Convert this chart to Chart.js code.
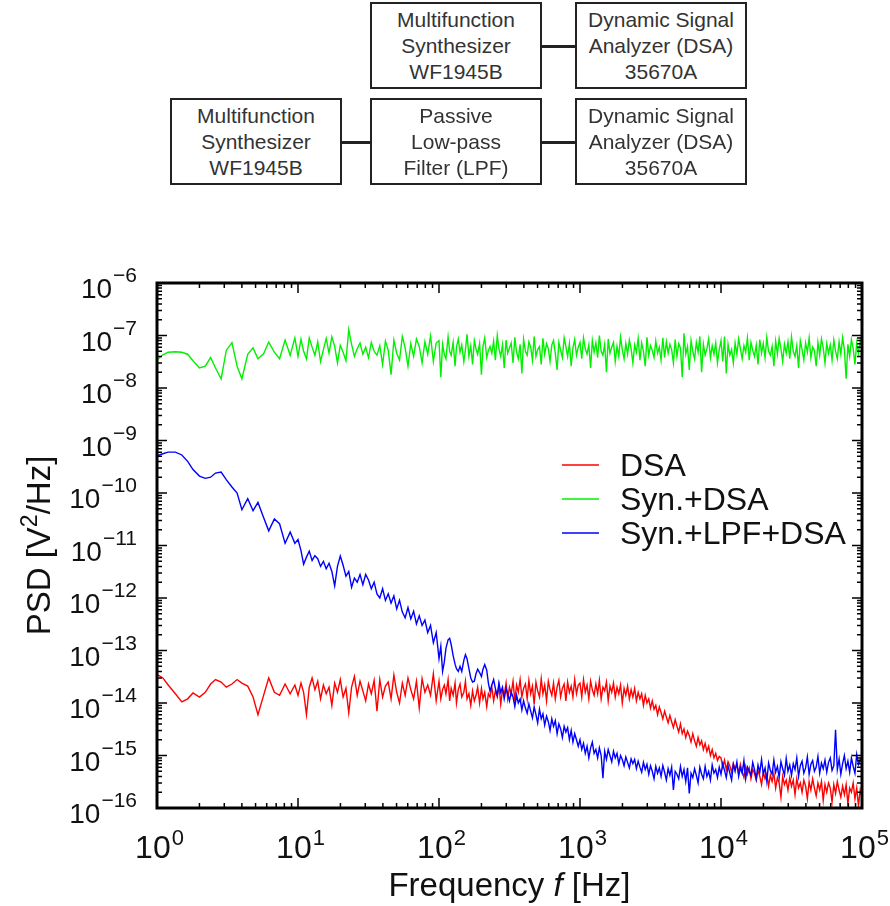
<!DOCTYPE html>
<html>
<head>
<meta charset="utf-8">
<script src="https://cdn.jsdelivr.net/npm/chart.js@4/dist/chart.umd.min.js"></script>
<style>
html, body { margin: 0; padding: 0; background: #fff; }
#wrap { position: relative; width: 890px; height: 906px; overflow: hidden; }
#grafica { position: absolute; left: 0; top: 0; }
.box {
    position: absolute; box-sizing: border-box; width: 172px; height: 87px;
    border: 2.5px solid #222; background: #fff; color: #333;
    font-family: "Liberation Sans", Arial, sans-serif; font-size: 21px; line-height: 26px;
    text-align: center; padding-top: 3px;
}
.wire { position: absolute; height: 2.5px; background: #222; }
</style>
</head>
<body>
<div id="wrap">
<canvas id="grafica" width="890" height="906"></canvas>

<div class="box" style="left:370px; top:2px;">Multifunction<br>Synthesizer<br>WF1945B</div>
<div class="wire" style="left:541px; top:45px; width:35px;"></div>
<div class="box" style="left:575px; top:2px;">Dynamic Signal<br>Analyzer (DSA)<br>35670A</div>

<div class="box" style="left:170px; top:98px;">Multifunction<br>Synthesizer<br>WF1945B</div>
<div class="wire" style="left:341px; top:141px; width:30px;"></div>
<div class="box" style="left:370px; top:98px;">Passive<br>Low-pass<br>Filter (LPF)</div>
<div class="wire" style="left:541px; top:141px; width:35px;"></div>
<div class="box" style="left:575px; top:98px;">Dynamic Signal<br>Analyzer (DSA)<br>35670A</div>
</div>

<script>
// frequency points [Hz]
var freq = [
    1, 1.1, 1.2, 1.35, 1.5, 1.65, 1.8, 2, 2.2, 2.4, 2.6, 2.85, 3.1, 3.4, 3.7, 4, 4.4, 4.8, 5.2, 5.7, 6.2, 6.8, 7.4, 8.1, 8.8, 9.5,
    10, 10.5, 10.96, 11.48, 12.02, 12.59, 13.18, 13.8, 14.45, 15.14,
    15.85, 16.6, 17.38, 18.2, 19.05, 19.95, 20.89, 21.88, 22.91, 23.99,
    25.12, 26.3, 27.54, 28.84, 30.2, 31.62, 33.11, 34.67, 36.31, 38.02,
    39.81, 41.69, 43.65, 45.71, 47.86, 50.12, 52.48, 54.95, 57.54, 60.26,
    63.1, 66.07, 69.18, 72.44, 75.86, 79.43, 83.18, 87.1, 91.2, 95.5,
    100, 103, 106, 109, 112, 116, 119, 122, 126, 130,
    133, 137, 141, 145, 150, 154, 158, 163, 168, 173,
    178, 183, 188, 194, 200, 205, 211, 218, 224, 230,
    237, 244, 251, 259, 266, 274, 282, 290, 299, 307,
    316, 325, 335, 345, 355, 365, 376, 387, 398, 410,
    422, 434, 447, 460, 473, 487, 501, 516, 531, 546,
    562, 579, 596, 613, 631, 649, 668, 688, 708, 729,
    750, 772, 794, 817, 841, 866, 891, 917, 944, 972,
    1000, 1029, 1059, 1090, 1122, 1155, 1189, 1223, 1259, 1296,
    1334, 1372, 1413, 1454, 1496, 1540, 1585, 1631, 1679, 1728,
    1778, 1830, 1884, 1939, 1995, 2054, 2113, 2175, 2239, 2304,
    2371, 2441, 2512, 2585, 2661, 2738, 2818, 2901, 2985, 3073,
    3162, 3255, 3350, 3447, 3548, 3652, 3758, 3868, 3981, 4097,
    4217, 4340, 4467, 4597, 4732, 4870, 5012, 5158, 5309, 5464,
    5623, 5788, 5957, 6131, 6310, 6494, 6683, 6879, 7079, 7286,
    7499, 7718, 7943, 8175, 8414, 8660, 8913, 9173, 9441, 9716,
    10000, 10290, 10590, 10900, 11220, 11550, 11890, 12230, 12590, 12960,
    13340, 13720, 14130, 14540, 14960, 15400, 15850, 16310, 16790, 17280,
    17780, 18300, 18840, 19390, 19950, 20540, 21130, 21750, 22390, 23040,
    23710, 24410, 25120, 25850, 26610, 27380, 28180, 29010, 29850, 30730,
    31620, 32550, 33500, 34470, 35480, 36520, 37580, 38680, 39810, 40970,
    42170, 43400, 44670, 45970, 47320, 48700, 50120, 51580, 53090, 54640,
    56230, 57880, 59570, 61310, 63100, 64940, 66830, 68790, 70790, 72860,
    74990, 77180, 79430, 81750, 84140, 86600, 89130, 91730, 94410, 97160,
    100000
];

// DSA alone
var psdDSA = [
    3.5e-14, 3.0e-14, 2.2e-14, 1.5e-14, 1.05e-14, 1.2e-14, 1.55e-14, 1.3e-14, 1.6e-14, 2.3e-14, 2.8e-14, 2.5e-14, 2.0e-14, 2.3e-14, 2.8e-14, 2.4e-14, 2.1e-14, 1.3e-14, 6.0e-15, 1.4e-14, 3.0e-14, 1.6e-14, 1.4e-14, 2.3e-14, 1.5e-14, 2.2e-14,
    1.4e-14, 2.4e-14, 1.6e-14, 6.0e-15, 2.0e-14, 3.0e-14, 1.8e-14, 2.6e-14, 1.2e-14, 2.2e-14,
    1.5e-14, 2.0e-14, 9.0e-15, 2.4e-14, 1.6e-14, 2.8e-14, 1.3e-14, 1.9e-14, 6.5e-15, 2.0e-14,
    3.2e-14, 1.4e-14, 2.6e-14, 1.7e-14, 1.1e-14, 2.3e-14, 1.5e-14, 2.7e-14, 7.0e-15, 2.8e-14,
    1.3e-14, 2.1e-14, 2.5e-14, 1.2e-14, 3.4e-14, 1.6e-14, 1.0e-14, 2.4e-14, 1.4e-14, 3.0e-14,
    1.8e-14, 1.2e-14, 2.6e-14, 8.0e-15, 2.9e-14, 1.6e-14, 2.2e-14, 1.4e-14, 3.6e-14, 1.1e-14,
    2.6e-14, 1.2e-14, 1.8e-14, 2.2e-14, 1.5e-14, 2.8e-14, 1.1e-14, 1.9e-14, 1.4e-14, 2.4e-14,
    1.0e-14, 1.8e-14, 2.3e-14, 1.3e-14, 1.6e-14, 2.6e-14, 1.2e-14, 1.5e-14, 9.0e-15, 1.7e-14,
    1.1e-14, 1.4e-14, 2.0e-14, 1.0e-14, 1.9e-14, 1.2e-14, 1.6e-14, 8.5e-15, 1.5e-14, 1.3e-14,
    2.0e-14, 1.1e-14, 1.7e-14, 1.3e-14, 2.2e-14, 9.5e-15, 1.8e-14, 1.4e-14, 2.4e-14, 1.2e-14,
    2.0e-14, 1.5e-14, 2.6e-14, 1.1e-14, 2.2e-14, 1.6e-14, 2.8e-14, 1.3e-14, 1.9e-14, 2.3e-14,
    1.2e-14, 2.7e-14, 1.5e-14, 2.1e-14, 9.5e-15, 2.5e-14, 1.7e-14, 1.3e-14, 2.9e-14, 1.5e-14,
    2.2e-14, 1.1e-14, 2.6e-14, 1.8e-14, 1.4e-14, 2.4e-14, 1.2e-14, 2.0e-14, 2.7e-14, 1.3e-14,
    1.9e-14, 2.3e-14, 1.1e-14, 2.5e-14, 1.6e-14, 2.1e-14, 1.3e-14, 2.8e-14, 1.5e-14, 2.2e-14,
    2.4e-14, 1.3e-14, 2.8e-14, 1.6e-14, 2.2e-14, 1.2e-14, 2.6e-14, 1.8e-14, 1.4e-14, 2.3e-14,
    1.5e-14, 2.7e-14, 1.2e-14, 2.0e-14, 1.7e-14, 2.5e-14, 1.1e-14, 2.1e-14, 1.6e-14, 2.4e-14,
    1.3e-14, 2.0e-14, 1.5e-14, 2.2e-14, 1.0e-14, 1.9e-14, 1.4e-14, 2.1e-14, 1.2e-14, 1.8e-14,
    1.3e-14, 1.9e-14, 1.1e-14, 1.6e-14, 1.2e-14, 1.5e-14, 9.0e-15, 1.4e-14, 1.0e-14, 1.2e-14,
    8.0e-15, 1.1e-14, 7.6e-15, 9.0e-15, 6.0e-15, 8.4e-15, 6.6e-15, 5.0e-15, 7.0e-15, 5.4e-15,
    4.2e-15, 5.8e-15, 4.4e-15, 3.4e-15, 4.8e-15, 3.6e-15, 2.8e-15, 4.0e-15, 2.6e-15, 3.2e-15,
    2.2e-15, 2.9e-15, 2.4e-15, 1.8e-15, 2.6e-15, 1.9e-15, 1.5e-15, 2.2e-15, 1.6e-15, 1.9e-15,
    1.3e-15, 1.7e-15, 1.2e-15, 1.5e-15, 1.0e-15, 1.3e-15, 9.0e-16, 1.1e-15, 8.0e-16, 9.6e-16,
    9.0e-16, 6.0e-16, 8.2e-16, 5.4e-16, 7.6e-16, 6.4e-16, 4.8e-16, 7.0e-16, 5.6e-16, 6.6e-16,
    4.6e-16, 6.8e-16, 5.0e-16, 3.8e-16, 6.2e-16, 4.4e-16, 5.8e-16, 3.6e-16, 5.4e-16, 4.6e-16,
    3.4e-16, 5.2e-16, 4.0e-16, 2.8e-16, 4.8e-16, 3.6e-16, 4.4e-16, 2.6e-16, 4.2e-16, 3.2e-16,
    4.6e-16, 2.4e-16, 3.8e-16, 3.0e-16, 1.6e-16, 4.0e-16, 2.8e-16, 3.4e-16, 2.2e-16, 3.8e-16,
    2.6e-16, 3.4e-16, 1.8e-16, 3.6e-16, 2.4e-16, 3.0e-16, 2.0e-16, 3.4e-16, 2.6e-16, 1.5e-16,
    3.2e-16, 2.2e-16, 3.6e-16, 2.4e-16, 1.7e-16, 3.0e-16, 2.2e-16, 3.2e-16, 1.4e-16, 2.8e-16,
    2.0e-16, 3.0e-16, 2.4e-16, 1.3e-16, 2.8e-16, 1.9e-16, 3.2e-16, 2.2e-16, 1.6e-16, 2.6e-16,
    1.8e-16, 2.8e-16, 1.2e-16, 2.4e-16, 2.0e-16, 3.0e-16, 1.5e-16, 2.4e-16, 1.1e-16, 2.2e-16,
    1.6e-16
];

// synthesizer -> DSA
var psdSynDSA = [
    3.4e-8, 4.3e-8, 4.8e-8, 4.9e-8, 4.8e-8, 4.4e-8, 3.3e-8, 2.4e-8, 2.6e-8, 3.8e-8, 2.4e-8, 1.5e-8, 5.2e-8, 7.3e-8, 2.6e-8, 1.5e-8, 4.4e-8, 5.8e-8, 3.6e-8, 4.5e-8, 7.5e-8, 4.8e-8, 3.6e-8, 8.2e-8, 4.2e-8, 9.0e-8,
    4.0e-8, 8.5e-8, 5.0e-8, 3.6e-8, 9.0e-8, 6.0e-8, 4.2e-8, 7.6e-8, 3.2e-8, 5.4e-8,
    8.8e-8, 4.6e-8, 9.4e-8, 6.2e-8, 3.0e-8, 6.5e-8, 4.8e-8, 3.3e-8, 1.3e-7, 6.8e-8,
    4.0e-8, 5.6e-8, 7.2e-8, 4.4e-8, 6.0e-8, 3.8e-8, 7.4e-8, 5.0e-8, 4.2e-8, 6.4e-8,
    2.8e-8, 7.8e-8, 5.2e-8, 1.8e-8, 8.2e-8, 4.6e-8, 3.4e-8, 9.6e-8, 5.8e-8, 2.6e-8,
    7.0e-8, 4.0e-8, 8.6e-8, 6.2e-8, 3.0e-8, 7.6e-8, 4.4e-8, 9.8e-8, 3.2e-8, 7.2e-8,
    8.0e-8, 1.6e-8, 6.8e-8, 4.4e-8, 3.6e-8, 9.4e-8, 5.0e-8, 4.2e-8, 7.4e-8, 2.6e-8,
    6.0e-8, 8.6e-8, 4.8e-8, 6.6e-8, 3.2e-8, 5.4e-8, 1.05e-7, 4.0e-8, 6.4e-8, 2.8e-8,
    8.0e-8, 5.6e-8, 4.4e-8, 7.0e-8, 1.8e-8, 6.2e-8, 9.0e-8, 3.8e-8, 5.2e-8, 6.2e-8,
    4.6e-8, 7.8e-8, 3.4e-8, 1.0e-7, 5.6e-8, 4.0e-8, 6.6e-8, 2.4e-8, 8.2e-8, 4.6e-8,
    5.8e-8, 7.2e-8, 3.0e-8, 9.2e-8, 4.8e-8, 3.6e-8, 6.8e-8, 1.9e-8, 8.4e-8, 5.0e-8,
    4.2e-8, 7.6e-8, 6.0e-8, 3.4e-8, 9.6e-8, 4.0e-8, 5.4e-8, 6.2e-8, 2.8e-8, 8.8e-8,
    4.4e-8, 7.0e-8, 5.6e-8, 3.2e-8, 6.6e-8, 8.0e-8, 4.6e-8, 2.2e-8, 7.4e-8, 5.2e-8,
    3.8e-8, 9.0e-8, 6.2e-8, 4.0e-8, 7.0e-8, 2.6e-8, 5.8e-8, 8.4e-8, 4.2e-8, 6.0e-8,
    7.4e-8, 3.6e-8, 9.0e-8, 5.6e-8, 4.4e-8, 6.6e-8, 2.4e-8, 8.0e-8, 4.8e-8, 7.2e-8,
    3.8e-8, 1.0e-7, 5.0e-8, 4.2e-8, 6.8e-8, 2.0e-8, 8.6e-8, 4.6e-8, 6.0e-8, 7.4e-8,
    3.2e-8, 6.2e-8, 4.0e-8, 9.4e-8, 5.4e-8, 3.6e-8, 7.0e-8, 4.4e-8, 8.2e-8, 5.6e-8,
    3.0e-8, 6.6e-8, 4.8e-8, 8.8e-8, 3.4e-8, 7.2e-8, 5.0e-8, 2.6e-8, 9.2e-8, 4.2e-8,
    6.4e-8, 5.2e-8, 3.8e-8, 7.8e-8, 4.6e-8, 6.0e-8, 3.4e-8, 9.0e-8, 3.8e-8, 7.6e-8,
    4.6e-8, 6.8e-8, 5.4e-8, 3.0e-8, 8.4e-8, 4.0e-8, 7.0e-8, 5.8e-8, 1.6e-8, 1.1e-7,
    4.4e-8, 6.2e-8, 2.2e-8, 8.0e-8, 5.0e-8, 3.6e-8, 7.4e-8, 4.8e-8, 9.6e-8, 2.0e-8,
    6.8e-8, 4.2e-8, 5.6e-8, 8.6e-8, 3.8e-8, 6.4e-8, 4.4e-8, 7.2e-8, 3.0e-8, 5.4e-8,
    8.0e-8, 3.2e-8, 9.6e-8, 1.9e-8, 6.8e-8, 4.2e-8, 5.4e-8, 3.0e-8, 7.2e-8, 4.4e-8,
    8.6e-8, 5.6e-8, 3.6e-8, 6.4e-8, 4.8e-8, 9.0e-8, 3.4e-8, 7.4e-8, 5.2e-8, 4.0e-8,
    6.6e-8, 2.8e-8, 8.4e-8, 4.6e-8, 7.0e-8, 3.8e-8, 9.2e-8, 5.0e-8, 4.2e-8, 6.2e-8,
    2.6e-8, 7.8e-8, 4.4e-8, 8.8e-8, 5.6e-8, 3.2e-8, 6.8e-8, 4.6e-8, 7.6e-8, 3.6e-8,
    9.4e-8, 5.0e-8, 4.0e-8, 6.4e-8, 2.4e-8, 8.0e-8, 5.4e-8, 3.4e-8, 7.2e-8, 4.8e-8,
    9.0e-8, 3.8e-8, 6.0e-8, 5.2e-8, 2.6e-8, 7.4e-8, 4.2e-8, 8.6e-8, 5.8e-8, 3.0e-8,
    7.0e-8, 4.6e-8, 6.6e-8, 3.4e-8, 8.2e-8, 5.0e-8, 3.6e-8, 7.6e-8, 4.4e-8, 9.2e-8,
    5.4e-8, 1.5e-8, 6.8e-8, 4.0e-8, 8.4e-8, 5.6e-8, 2.8e-8, 7.2e-8, 4.6e-8, 8.0e-8,
    6.0e-8
];

// synthesizer -> LPF -> DSA
var psdSynLPFDSA = [
    5.1e-10, 5.6e-10, 6.0e-10, 6.0e-10, 5.3e-10, 4.0e-10, 2.8e-10, 2.1e-10, 1.9e-10, 2.0e-10, 2.4e-10, 2.5e-10, 1.8e-10, 1.3e-10, 1.0e-10, 4.8e-11, 7.8e-11, 4.6e-11, 6.6e-11, 3.4e-11, 1.9e-11, 3.2e-11, 2.6e-11, 1.1e-11, 1.8e-11, 1.1e-11,
    1.3e-11, 8.0e-12, 4.4e-12, 6.0e-12, 7.8e-12, 5.2e-12, 6.4e-12, 5.6e-12, 4.0e-12, 5.0e-12,
    3.6e-12, 4.6e-12, 3.2e-12, 1.7e-12, 4.0e-12, 6.3e-12, 4.2e-12, 2.6e-12, 3.2e-12, 1.6e-12,
    2.4e-12, 2.0e-12, 2.8e-12, 1.8e-12, 2.8e-12, 2.2e-12, 1.5e-12, 2.0e-12, 1.2e-12, 1.0e-12,
    1.5e-12, 9.0e-13, 1.2e-12, 8.0e-13, 1.1e-12, 6.2e-13, 9.0e-13, 5.4e-13, 4.2e-13, 6.6e-13,
    4.0e-13, 5.6e-13, 3.2e-13, 4.6e-13, 3.0e-13, 3.8e-13, 2.2e-13, 3.0e-13, 1.4e-13, 2.2e-13,
    7.0e-14, 1.2e-13, 4.0e-14, 6.0e-14, 1.1e-13, 1.6e-13, 1.7e-13, 1.3e-13, 8.0e-14, 5.5e-14,
    4.5e-14, 4.0e-14, 5.0e-14, 4.0e-14, 6.5e-14, 8.3e-14, 7.0e-14, 4.5e-14, 3.0e-14, 2.5e-14,
    2.6e-14, 3.6e-14, 4.4e-14, 3.8e-14, 3.2e-14, 4.4e-14, 5.4e-14, 4.2e-14, 2.4e-14, 1.7e-14,
    2.2e-14, 2.8e-14, 1.9e-14, 1.4e-14, 2.4e-14, 1.6e-14, 2.0e-14, 1.2e-14, 1.9e-14, 1.5e-14,
    1.1e-14, 1.6e-14, 1.3e-14, 8.6e-15, 1.4e-14, 1.0e-14, 1.2e-14, 7.4e-15, 1.1e-14, 8.0e-15,
    6.4e-15, 9.6e-15, 7.0e-15, 5.2e-15, 8.4e-15, 6.0e-15, 4.2e-15, 7.6e-15, 5.0e-15, 6.2e-15,
    3.8e-15, 5.6e-15, 4.4e-15, 3.0e-15, 5.0e-15, 3.6e-15, 4.6e-15, 2.6e-15, 4.0e-15, 3.2e-15,
    2.2e-15, 3.6e-15, 2.8e-15, 3.4e-15, 2.0e-15, 3.0e-15, 1.8e-15, 2.6e-15, 2.0e-15, 1.5e-15,
    2.0e-15, 1.3e-15, 1.7e-15, 1.1e-15, 1.5e-15, 9.0e-16, 1.4e-15, 1.8e-15, 1.1e-15, 1.3e-15,
    9.0e-16, 1.4e-15, 1.0e-15, 3.7e-16, 1.2e-15, 8.4e-16, 1.3e-15, 1.0e-15, 7.6e-16, 1.2e-15,
    9.0e-16, 1.1e-15, 7.0e-16, 1.0e-15, 8.4e-16, 6.4e-16, 9.4e-16, 7.4e-16, 5.8e-16, 8.6e-16,
    7.0e-16, 8.4e-16, 5.6e-16, 7.8e-16, 6.0e-16, 4.8e-16, 7.4e-16, 5.4e-16, 6.8e-16, 4.4e-16,
    6.4e-16, 5.0e-16, 3.6e-16, 6.2e-16, 4.6e-16, 5.8e-16, 4.0e-16, 6.4e-16, 4.8e-16, 3.4e-16,
    5.6e-16, 4.2e-16, 6.0e-16, 2.2e-16, 5.0e-16, 4.4e-16, 3.6e-16, 6.2e-16, 4.0e-16, 5.4e-16,
    3.2e-16, 5.8e-16, 1.9e-16, 4.6e-16, 3.8e-16, 5.6e-16, 4.2e-16, 3.0e-16, 6.0e-16, 4.4e-16,
    3.6e-16, 6.2e-16, 4.0e-16, 5.0e-16, 3.4e-16, 6.6e-16, 4.6e-16, 5.4e-16, 3.8e-16, 6.0e-16,
    4.4e-16, 7.0e-16, 5.2e-16, 3.8e-16, 6.4e-16, 4.6e-16, 3.4e-16, 6.8e-16, 5.0e-16, 7.6e-16,
    4.0e-16, 5.8e-16, 4.6e-16, 8.0e-16, 3.6e-16, 6.0e-16, 5.0e-16, 4.2e-16, 7.4e-16, 5.4e-16,
    3.6e-16, 6.6e-16, 4.8e-16, 8.4e-16, 4.4e-16, 5.8e-16, 3.2e-16, 7.2e-16, 5.2e-16, 4.4e-16,
    8.2e-16, 4.8e-16, 6.2e-16, 3.8e-16, 7.6e-16, 5.6e-16, 4.2e-16, 8.8e-16, 5.0e-16, 6.6e-16,
    4.2e-16, 7.0e-16, 5.4e-16, 9.0e-16, 4.0e-16, 6.4e-16, 7.8e-16, 4.6e-16, 5.8e-16, 9.4e-16,
    4.4e-16, 6.8e-16, 8.0e-16, 5.0e-16, 6.0e-16, 9.6e-16, 4.6e-16, 7.2e-16, 5.6e-16, 8.2e-16,
    4.8e-16, 7.4e-16, 9.0e-16, 5.2e-16, 6.4e-16, 3.1e-15, 5.4e-16, 8.6e-16, 4.4e-16, 7.0e-16,
    1.0e-15, 5.6e-16, 7.8e-16, 4.8e-16, 9.0e-16, 6.2e-16, 4.6e-16, 1.05e-15, 6.8e-16, 8.4e-16,
    7.0e-16
];

var labels = ['DSA', 'Syn.+DSA', 'Syn.+LPF+DSA'];
var colores = ['#ff0000', '#00f000', '#0000ff'];

// tick labels: powers of ten
var xExponents = [0, 1, 2, 3, 4, 5];
var yExponents = [-6, -7, -8, -9, -10, -11, -12, -13, -14, -15, -16];

var FONT = '"Liberation Sans", Arial, sans-serif';

function puntos(serie) {
    return freq.map(function (f, i) { return { x: f, y: serie[i] }; });
}

function supText(e) {
    return String(e).replace('-', '\u2212');
}

var marco = {
    id: 'marco',
    afterDraw: function (chart) {
        var ctx = chart.ctx;
        var a = chart.chartArea;
        var xs = chart.scales.x, ys = chart.scales.y;
        ctx.save();

        // inward ticks on all four sides
        ctx.strokeStyle = '#000';
        ctx.lineWidth = 1.5;
        ctx.beginPath();
        xExponents.forEach(function (e) {
            for (var m = 1; m <= 9; m++) {
                var v = m * Math.pow(10, e);
                if (v > 1e5) break;
                var px = xs.getPixelForValue(v);
                var len = m === 1 ? 10 : 5;
                ctx.moveTo(px, a.bottom); ctx.lineTo(px, a.bottom - len);
                ctx.moveTo(px, a.top); ctx.lineTo(px, a.top + len);
            }
        });
        yExponents.forEach(function (e) {
            for (var m = 1; m <= 9; m++) {
                var v = m * Math.pow(10, e);
                if (v > 1e-6) break;
                var py = ys.getPixelForValue(v);
                var len = m === 1 ? 10 : 5;
                ctx.moveTo(a.left, py); ctx.lineTo(a.left + len, py);
                ctx.moveTo(a.right, py); ctx.lineTo(a.right - len, py);
            }
        });
        ctx.stroke();

        ctx.lineWidth = 3;
        ctx.strokeRect(a.left, a.top, a.right - a.left, a.bottom - a.top);

        // tick labels
        ctx.fillStyle = '#111';
        ctx.textBaseline = 'alphabetic';
        ctx.textAlign = 'left';
        xExponents.forEach(function (e) {
            var px = xs.getPixelForValue(Math.pow(10, e));
            ctx.font = '32px ' + FONT;
            var w1 = ctx.measureText('10').width;
            ctx.font = '22px ' + FONT;
            var w2 = ctx.measureText(supText(e)).width;
            var x0 = px + 2 - (w1 + w2) / 2;
            ctx.font = '32px ' + FONT;
            ctx.fillText('10', x0, a.bottom + 50);
            ctx.font = '22px ' + FONT;
            ctx.fillText(supText(e), x0 + w1 + 1, a.bottom + 37);
        });
        yExponents.forEach(function (e) {
            var py = ys.getPixelForValue(Math.pow(10, e));
            ctx.font = '28px ' + FONT;
            var w1 = ctx.measureText('10').width;
            ctx.font = '21px ' + FONT;
            var w2 = ctx.measureText(supText(e)).width;
            var right = a.left - 20;
            ctx.font = '28px ' + FONT;
            ctx.fillText('10', right - w2 - w1 - 1, py + 15);
            ctx.font = '21px ' + FONT;
            ctx.fillText(supText(e), right - w2, py - 1);
        });

        // axis titles
        ctx.font = '33px ' + FONT;
        var p1 = 'Frequency ', p2 = 'f', p3 = ' [Hz]';
        var w1 = ctx.measureText(p1).width, w3 = ctx.measureText(p3).width;
        ctx.font = 'italic 33px ' + FONT;
        var w2 = ctx.measureText(p2).width;
        var cx = (a.left + a.right) / 2;
        var x0 = cx - (w1 + w2 + w3) / 2;
        ctx.font = '33px ' + FONT;
        ctx.fillText(p1, x0, a.bottom + 88);
        ctx.font = 'italic 33px ' + FONT;
        ctx.fillText(p2, x0 + w1, a.bottom + 88);
        ctx.font = '33px ' + FONT;
        ctx.fillText(p3, x0 + w1 + w2, a.bottom + 88);

        ctx.save();
        ctx.translate(50, (a.top + a.bottom) / 2);
        ctx.rotate(-Math.PI / 2);
        ctx.font = '33px ' + FONT;
        var q1 = 'PSD [V', q3 = '/Hz]';
        var v1 = ctx.measureText(q1).width, v3 = ctx.measureText(q3).width;
        ctx.font = '23px ' + FONT;
        var v2 = ctx.measureText('2').width;
        var y0 = -(v1 + v2 + v3) / 2;
        ctx.font = '33px ' + FONT;
        ctx.fillText(q1, y0, 0);
        ctx.font = '23px ' + FONT;
        ctx.fillText('2', y0 + v1, -13);
        ctx.font = '33px ' + FONT;
        ctx.fillText(q3, y0 + v1 + v2, 0);
        ctx.restore();

        // legend inside the plot
        ctx.font = '32px ' + FONT;
        chart.data.datasets.forEach(function (ds, i) {
            var ly = a.top + 182 + i * 34;
            ctx.strokeStyle = ds.borderColor;
            ctx.lineWidth = 1.5;
            ctx.beginPath();
            ctx.moveTo(a.left + 405, ly);
            ctx.lineTo(a.left + 442, ly);
            ctx.stroke();
            ctx.fillStyle = '#111';
            ctx.fillText(ds.label, a.left + 463, ly + 11);
        });

        ctx.restore();
    }
};

var series = [psdDSA, psdSynDSA, psdSynLPFDSA];

var ctx = document.getElementById('grafica').getContext('2d');
new Chart(ctx, {
    type: 'line',
    data: {
        datasets: series.map(function (s, i) {
            return {
                label: labels[i],
                data: puntos(s),
                borderColor: colores[i],
                borderWidth: 1.4,
                pointRadius: 0,
                fill: false,
                tension: 0,
                order: 3 - i
            };
        })
    },
    options: {
        responsive: false,
        animation: false,
        layout: { padding: { top: 283, right: 28, left: 0, bottom: 0 } },
        plugins: {
            legend: { display: false },
            tooltip: { enabled: false }
        },
        scales: {
            x: {
                type: 'logarithmic', min: 1, max: 1e5,
                ticks: { display: false },
                grid: { display: false },
                border: { display: false },
                afterFit: function (scale) { scale.height = 98; }
            },
            y: {
                type: 'logarithmic', min: 1e-16, max: 1e-6,
                ticks: { display: false },
                grid: { display: false },
                border: { display: false },
                afterFit: function (scale) { scale.width = 157; }
            }
        }
    },
    plugins: [marco]
});
</script>
</body>
</html>
